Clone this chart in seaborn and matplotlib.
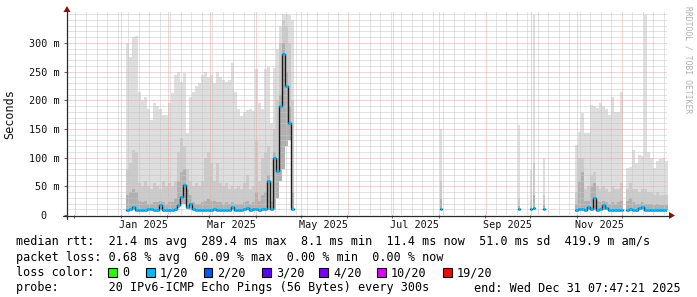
import numpy as np
import pandas as pd
import matplotlib
matplotlib.use("Agg")
import matplotlib.pyplot as plt
import matplotlib.dates as mdates
from matplotlib.patches import Rectangle, Polygon
from matplotlib.lines import Line2D
import seaborn as sns

# ---------------- data (ms) ----------------
T_START = "2024-11-26 07:47:21"
T_END = "2025-12-31 07:47:21"

SEG1_START = "2025-01-04 15:00"
SEG1_HI = [300, 275, 310, 312, 215, 200, 205, 185, 165, 195, 190, 185, 175, 175, 195, 212, 245, 250, 232, 247,
           143, 206, 215, 225, 230, 245, 250, 240, 245, 230, 250, 240, 235, 232, 235, 265, 215, 185, 172, 180,
           183, 185, 182, 255, 195, 185, 255, 258, 160, 256, 290, 330, 350, 350, 348, 340]
SEG1_UP2 = [80, 90, 113, 110, 55, 50, 60, 50, 45, 55, 50, 45, 60, 50, 55, 50, 60, 110, 135, 120,
            80, 60, 50, 55, 50, 60, 100, 110, 90, 60, 90, 55, 50, 55, 45, 50, 45, 50, 45, 55,
            70, 45, 50, 130, 60, 100, 110, 120, 60, 150, 200, 300, 340, 330, 300, 200]
SEG1_UP1 = [35, 40, 45, 40, 25, 22, 25, 20, 20, 22, 22, 25, 22, 20, 22, 22, 30, 60, 75, 80,
            45, 35, 22, 20, 20, 22, 25, 28, 25, 25, 22, 22, 20, 22, 20, 22, 20, 20, 20, 22,
            25, 20, 22, 40, 25, 35, 40, 70, 25, 110, 100, 210, 300, 250, 190, 40]
SEG1_MED = [9, 10, 14, 9, 9, 9, 9, 10, 11, 9, 9, 18, 9, 9, 9, 9, 10, 18, 32, 52,
            14, 20, 10, 9, 9, 9, 9, 9, 9, 10, 9, 9, 9, 9, 9, 14, 9, 9, 9, 10,
            12, 9, 10, 11, 9, 10, 10, 60, 10, 100, 77, 190, 280, 225, 160, 10]
SEG1_LO = [8, 8, 8, 8, 8, 8, 8, 8, 8, 8, 8, 8, 8, 8, 8, 8, 8, 12, 20, 20,
           10, 8, 8, 8, 8, 8, 8, 8, 8, 8, 8, 8, 8, 8, 8, 8, 8, 8, 8, 8,
           8, 8, 8, 8, 8, 8, 8, 8, 8, 8, 30, 60, 80, 120, 130, 8]

nan = np.nan
SEG3_START = "2025-10-30 23:00"
SEG3_HI = [122, 145, 178, 143, 143, 192, 190, 187, 195, 190, 185, 175, 205, 180, 180, 215, nan,
           82, 84, 113, 90, 105, 103, 349, 110, 100, 82, 95, 98, 100, 95]
SEG3_UP2 = [40, 100, 100, 45, 50, 70, 75, 50, 45, 50, 45, 40, 50, 45, 45, 55, nan,
            45, 55, 45, 45, 40, 45, 45, 40, 40, 35, 40, 35, 35, 35]
SEG3_UP1 = [20, 60, 75, 25, 25, 50, 55, 25, 22, 25, 22, 20, 22, 20, 22, 25, nan,
            25, 30, 22, 20, 20, 22, 20, 20, 20, 18, 20, 18, 18, 18]
SEG3_MED = [9, 10, 10, 9, 14, 10, 30, 9, 10, 17, 12, 9, 9, 9, 9, 9, nan,
            9, 10, 9, 9, 13, 14, 9, 9, 9, 9, 9, 9, 9, 9]
SEG3_LO = [8, 8, 8, 8, 8, 8, 8, 8, 8, 8, 8, 8, 8, 8, 8, 8, nan,
           8, 8, 8, 8, 8, 8, 8, 8, 8, 8, 8, 8, 8, 8]

SPIKE_DATES = ["2025-08-01 23:00", "2025-09-22 23:00", "2025-09-30 23:00",
               "2025-10-02 23:00", "2025-10-09 15:00"]
SPIKE_HI = [150, 157, 78, 349, 100]
SPIKE_UP2 = [60, 30, 25, 90, 35]
SPIKE_UP1 = [28, 15, 12, 35, 18]
SPIKE_MED = [11, 10, 10, 12, 11]
SPIKE_LO = [8, 8, 8, 8, 8]

Y_TICKS = [0, 50, 100, 150, 200, 250, 300]
Y_TICK_LABELS = ["0  ", "50 m", "100 m", "150 m", "200 m", "250 m", "300 m"]

LOSS_LABELS = ["0", "1/20", "2/20", "3/20", "4/20", "10/20", "19/20"]
LOSS_COLORS = ["#26ff00", "#00b8ff", "#0059ff", "#5e00ff", "#7e00ff", "#dd00ff", "#ff0000"]

LINE_RTT = "median rtt:  21.4 ms avg  289.4 ms max  8.1 ms min  11.4 ms now  51.0 ms sd  419.9 m am/s"
LINE_LOSS = "packet loss: 0.68 % avg  60.09 % max  0.00 % min  0.00 % now"
LINE_COLOR = "loss color:"
LINE_PROBE = "probe:       20 IPv6-ICMP Echo Pings (56 Bytes) every 300s"
LINE_END = "end: Wed Dec 31 07:47:21 2025"

# ---------------- style ----------------
sns.set_theme(style="white")
plt.rcParams["font.family"] = ["DejaVu Sans Mono"]
plt.rcParams["lines.scale_dashes"] = False

W, H = 697, 297
def fx(px):
    return px / W
def fy(py):
    return 1 - py / H

LIGHT, MID, DARK = "#dedede", "#cbcbcb", "#b0b0b0"
CYAN = LOSS_COLORS[1]
GRID_C = "#c6c6c6"
MGRID_C = "#eda8a8"
AXIS_C = "#2a2a2a"
ARROW_C = "#8b1010"

fig = plt.figure(figsize=(W / 100, H / 100), dpi=100)
fig.patch.set_facecolor("white")
ax = fig.add_axes([fx(67), fy(215), 600 / W, 203 / H])
ax.set_facecolor("white")

x0 = mdates.date2num(pd.Timestamp(T_START))
x1 = mdates.date2num(pd.Timestamp(T_END))
ax.set_xlim(x0, x1)
ax.set_ylim(0, 354)


def draw_block(t, lo, up1, up2, hi, med, width):
    t = np.asarray(t, float)
    lo, up1, up2, hi, med = [np.asarray(a, float) for a in (lo, up1, up2, hi, med)]
    idx = np.where(~np.isnan(med))[0]
    if len(idx) == 0:
        return
    runs = np.split(idx, np.where(np.diff(idx) > 1)[0] + 1)
    for r in runs:
        tr = t[r]
        edges = np.append(tr, tr[-1] + width)

        def ext(a):
            return np.append(a[r], a[r][-1])

        ax.fill_between(edges, ext(lo), ext(hi), step="post", color=LIGHT, lw=0, zorder=1)
        ax.fill_between(edges, ext(lo), ext(up2), step="post", color=MID, lw=0, zorder=1.1)
        ax.fill_between(edges, ext(lo), ext(up1), step="post", color=DARK, lw=0, zorder=1.2)
        sns.lineplot(x=edges, y=ext(med), drawstyle="steps-post", color="#1a1a1a", lw=1.0,
                     ax=ax, zorder=3, estimator=None, sort=False, legend=False)
        ax.hlines(med[r], tr, tr + width, color=CYAN, lw=2.0, zorder=4)


t1 = mdates.date2num(pd.date_range(SEG1_START, periods=len(SEG1_MED), freq="2D"))
draw_block(t1, SEG1_LO, SEG1_UP1, SEG1_UP2, SEG1_HI, SEG1_MED, 2.0)
t3 = mdates.date2num(pd.date_range(SEG3_START, periods=len(SEG3_MED), freq="2D"))
draw_block(t3, SEG3_LO, SEG3_UP1, SEG3_UP2, SEG3_HI, SEG3_MED, 2.0)
ts = mdates.date2num(pd.to_datetime(SPIKE_DATES))
for i in range(len(ts)):
    draw_block(ts[i:i + 1], SPIKE_LO[i:i + 1], SPIKE_UP1[i:i + 1], SPIKE_UP2[i:i + 1],
               SPIKE_HI[i:i + 1], SPIKE_MED[i:i + 1], 1.2)

# ---------------- grid ----------------
dots = (0, (0.72, 0.72))
grid_kw = dict(lw=0.72, ls=dots, zorder=2)
month_locs = mdates.date2num(pd.date_range(T_START, T_END, freq="MS"))
week_locs = mdates.date2num(pd.date_range(T_START, T_END, freq="W-MON").normalize())
for w in week_locs:
    if x0 < w < x1 and np.min(np.abs(month_locs - w)) > 0.8:
        ax.axvline(w, color=GRID_C, **grid_kw)
for m in month_locs:
    ax.axvline(m, color=MGRID_C, **grid_kw)
for v in range(10, 351, 10):
    ax.axhline(v, color=(MGRID_C if (v % 50 == 0 and v <= 300) else GRID_C), **grid_kw)

# ---------------- ticks ----------------
for s in ax.spines.values():
    s.set_visible(False)
ax.set_yticks(Y_TICKS)
ax.set_yticklabels(Y_TICK_LABELS)
ax.tick_params(axis="y", which="major", length=2.5, width=0.8, color="#666666", pad=2.8,
               labelsize=7.3, labelcolor="#111111", direction="out", left=True)
ax.xaxis.set_major_locator(mdates.MonthLocator(bymonth=[1, 3, 5, 7, 9, 11], bymonthday=16))
ax.xaxis.set_major_formatter(mdates.DateFormatter("%b %Y"))
ax.xaxis.set_minor_locator(mdates.MonthLocator())
ax.tick_params(axis="x", which="major", length=0, pad=3.5, labelsize=7.3, labelcolor="#111111",
               bottom=True)
ax.tick_params(axis="x", which="minor", length=2.5, width=0.8, color="#666666", bottom=True,
               direction="out")
ax.set_xlabel("")
ax.set_ylabel("")

# axis lines + arrows
fig.add_artist(Line2D([fx(63), fx(670)], [fy(215.5), fy(215.5)], color=AXIS_C, lw=0.9))
fig.add_artist(Line2D([fx(67), fx(67)], [fy(219), fy(11)], color=AXIS_C, lw=0.9))
fig.add_artist(Polygon([[fx(669), fy(212)], [fx(675), fy(215.5)], [fx(669), fy(219)]],
                       closed=True, color=ARROW_C, lw=0))
fig.add_artist(Polygon([[fx(63.5), fy(12)], [fx(67), fy(6)], [fx(70.5), fy(12)]],
                       closed=True, color=ARROW_C, lw=0))

# labels
fig.text(fx(10), fy(114), "Seconds", rotation=90, ha="center", va="center", fontsize=8.5,
         color="#111111")
fig.text(fx(688), fy(60), "RRDTOOL / TOBI OETIKER", rotation=270, ha="center", va="center",
         fontsize=5.8, color="#b0b0b0")

LEG_FS = 8.5
fig.text(fx(16), fy(241), LINE_RTT, ha="left", va="center", fontsize=LEG_FS, color="black")
fig.text(fx(16), fy(257), LINE_LOSS, ha="left", va="center", fontsize=LEG_FS, color="black")
fig.text(fx(16), fy(272.5), LINE_COLOR, ha="left", va="center", fontsize=LEG_FS, color="black")
fig.text(fx(16), fy(288), LINE_PROBE, ha="left", va="center", fontsize=LEG_FS, color="black")
fig.text(fx(681), fy(288), LINE_END, ha="right", va="center", fontsize=LEG_FS, color="black")

box_x = [108, 146, 203.5, 262, 319, 377, 443]
for bx, lab, col in zip(box_x, LOSS_LABELS, LOSS_COLORS):
    fig.add_artist(Rectangle((fx(bx), fy(277)), 8.5 / W, 9 / H, facecolor=col,
                             edgecolor="black", lw=0.8))
    fig.text(fx(bx + 14), fy(272.5), lab, ha="left", va="center", fontsize=LEG_FS, color="black")

fig.savefig("out.png", dpi=100, facecolor="white")
